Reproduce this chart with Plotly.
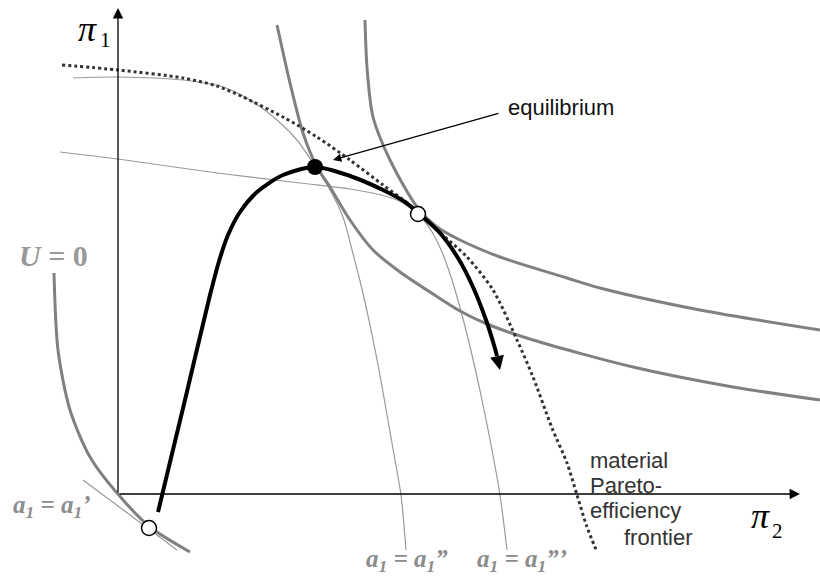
import plotly.graph_objects as go

# ---- data (pi2, pi1) in diagram units ----
frontier_x = [-56, 0, 65, 99, 125, 165, 199, 232, 265, 289, 319, 349, 375, 399, 415, 434, 449, 459, 469, 479]
frontier_y = [429, 424, 416, 408, 397, 377, 357, 334, 309, 291, 264, 237, 204, 154, 117, 66, 31, -1, -33, -58]

iso2_x = [-45, 0, 65, 105, 132, 159, 179, 195, 212, 225, 234, 243, 252, 261, 269, 277, 283, 288]
iso2_y = [416, 417, 414, 407, 394, 374, 354, 331, 304, 277, 244, 209, 169, 124, 79, 34, -1, -56]

iso3_x = [-58, 0, 99, 182, 232, 267, 287, 302, 314, 324, 334, 344, 354, 364, 374, 382, 389]
iso3_y = [342, 335, 321, 311, 305, 298, 290, 278, 262, 242, 214, 179, 139, 94, 44, -1, -56]

iso1_x = [-35, 59]
iso1_y = [14, -56]

u0_x = [-64, -60, -48, -28, -1, 32, 72]
u0_y = [221, 144, 84, 37, 1, -33, -58]

indiffA_x = [159, 172, 185, 199, 212, 232, 255, 282, 315, 342, 369, 415, 515, 615, 702]
indiffA_y = [469, 411, 361, 327, 307, 274, 244, 222, 200, 183, 170, 154, 127, 107, 94]

indiffB_x = [247, 249, 255, 272, 299, 319, 342, 382, 449, 482, 582, 702]
indiffB_y = [474, 427, 377, 334, 287, 267, 254, 237, 216, 206, 184, 164]

path_x = [40, 67, 92, 102, 110, 122, 139, 165, 197, 232, 265, 287, 305, 322, 340, 355, 368, 376, 379]
path_y = [-18, 94, 199, 236, 259, 282, 302, 319, 327, 318, 304, 292, 277, 261, 236, 207, 174, 149, 138]
path_tip = (382, 124)

equilibrium = (197, 327)
open_pts_x = [300, 31]
open_pts_y = [280, -34]

THICK = "#808080"
THIN = "#9a9a9a"
LABEL = "#8c8c8c"

fig = go.Figure()


def curve(x, y, color, width, dash="solid", smooth=0.8):
    fig.add_trace(go.Scatter(x=x, y=y, mode="lines",
                             line=dict(color=color, width=width, dash=dash, shape="spline", smoothing=smooth),
                             hoverinfo="skip"))


curve(iso2_x, iso2_y, THIN, 1.2)
curve(iso3_x, iso3_y, THIN, 1.2)
curve(iso1_x, iso1_y, THIN, 1.2)
curve(u0_x, u0_y, THICK, 3)
curve(indiffA_x, indiffA_y, THICK, 3)
curve(indiffB_x, indiffB_y, THICK, 3)
curve(frontier_x, frontier_y, "#333333", 3, "dot")
curve(path_x, path_y, "black", 4)

fig.add_trace(go.Scatter(x=[equilibrium[0]], y=[equilibrium[1]], mode="markers",
                         marker=dict(size=16, color="black"), hoverinfo="skip"))
fig.add_trace(go.Scatter(x=open_pts_x, y=open_pts_y, mode="markers",
                         marker=dict(size=15, color="white", line=dict(color="black", width=1.5)),
                         hoverinfo="skip"))

ann = []
# axes arrows
ann.append(dict(x=0, y=486, ax=0, ay=0, xref="x", yref="y", axref="x", ayref="y",
                showarrow=True, arrowhead=2, arrowsize=1.6, arrowwidth=1.3, arrowcolor="black", text=""))
ann.append(dict(x=682, y=0, ax=0, ay=0, xref="x", yref="y", axref="x", ayref="y",
                showarrow=True, arrowhead=2, arrowsize=1.6, arrowwidth=1.3, arrowcolor="black", text=""))
# path arrow head
ann.append(dict(x=path_tip[0], y=path_tip[1], ax=path_x[-1], ay=path_y[-1], xref="x", yref="y",
                axref="x", ayref="y", showarrow=True, arrowhead=2, arrowsize=0.7, arrowwidth=4,
                arrowcolor="black", text=""))
# equilibrium leader
ann.append(dict(x=215, y=334, ax=382, ay=381, xref="x", yref="y", axref="x", ayref="y",
                showarrow=True, arrowhead=2, arrowsize=1.4, arrowwidth=1.2, arrowcolor="black", text=""))

sans = "Liberation Sans, Arial, sans-serif"
serif = "Liberation Serif, Times New Roman, serif"


def text(x, y, t, size, color="black", family=sans, xanchor="left"):
    ann.append(dict(x=x, y=y, xref="x", yref="y", text=t, showarrow=False,
                    font=dict(size=size, color=color, family=family),
                    xanchor=xanchor, yanchor="middle"))


text(388, 387, "equilibrium", 22, "#111111")
text(470, 34, "material", 22, "#333333")
text(470, 9, "Pareto-", 22, "#333333")
text(470, -16, "efficiency", 22, "#333333")
text(504, -43, "frontier", 22, "#333333")

text(-31, 465, "<i>π</i>", 36, "black", serif, "center")
text(-13, 454, "1", 21, "black", serif, "center")
text(642, -22, "<i>π</i>", 36, "black", serif, "center")
text(659, -37, "2", 21, "black", serif, "center")

text(-65, 239, "<b><i>U</i> = 0</b>", 30, "#999999", serif, "center")
text(-66, -12, "<b><i>a<sub>1</sub> = a<sub>1</sub>’</i></b>", 25, LABEL, serif, "center")
text(289, -66, "<b><i>a<sub>1</sub> = a<sub>1</sub>”</i></b>", 25, LABEL, serif, "center")
text(404, -66, "<b><i>a<sub>1</sub> = a<sub>1</sub>”’</i></b>", 25, LABEL, serif, "center")

fig.update_layout(
    width=820, height=577,
    margin=dict(l=0, r=0, t=0, b=0),
    paper_bgcolor="white", plot_bgcolor="white",
    showlegend=False,
    xaxis=dict(range=[-118, 702], visible=False, fixedrange=True),
    yaxis=dict(range=[-83, 494], visible=False, fixedrange=True),
    annotations=ann,
)

fig.write_html("out.html", config={"displayModeBar": False, "staticPlot": True},
               post_script="document.body.style.margin='0px';document.body.style.overflow='hidden';")
